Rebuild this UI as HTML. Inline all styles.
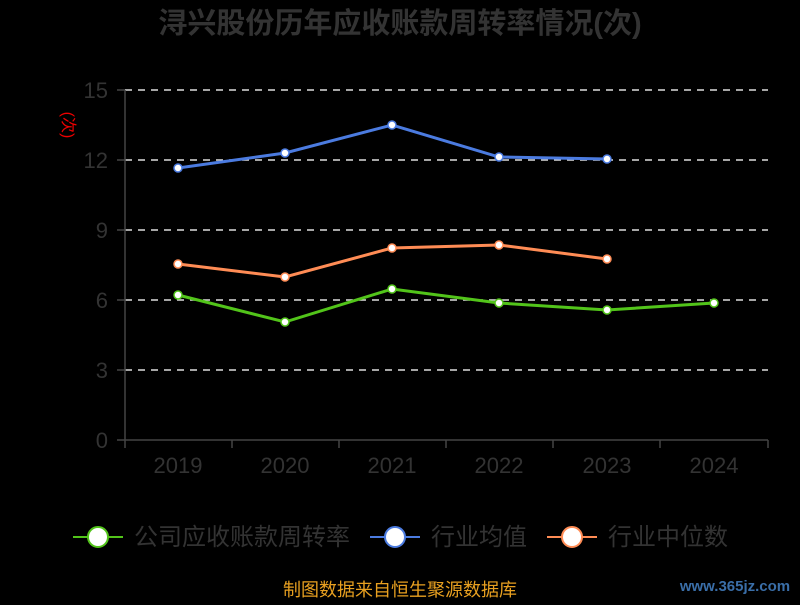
<!DOCTYPE html>
<html><head><meta charset="utf-8"><style>
body{margin:0;background:#000;width:800px;height:600px;overflow:hidden}
svg text{font-family:"Liberation Sans","Noto Sans CJK SC",sans-serif}
</style></head><body>
<svg width="800" height="600" xmlns="http://www.w3.org/2000/svg">
<rect width="800" height="600" fill="#000"/>
<text x="400" y="33" text-anchor="middle" font-size="29" font-weight="bold" fill="#333">浔兴股份历年应收账款周转率情况(次)</text>
<text transform="translate(63,125) rotate(90)" text-anchor="middle" font-size="16" fill="#e00">(次)</text>
<g stroke="#ddd" stroke-width="1.5" stroke-dasharray="7,6">
<line x1="125" y1="90" x2="768" y2="90"/><line x1="125" y1="160" x2="768" y2="160"/>
<line x1="125" y1="230" x2="768" y2="230"/><line x1="125" y1="300" x2="768" y2="300"/>
<line x1="125" y1="370" x2="768" y2="370"/></g>
<g stroke="#444" stroke-width="1.5">
<line x1="125" y1="90" x2="125" y2="440"/><line x1="125" y1="440" x2="768" y2="440"/>
<line x1="117" y1="90" x2="125" y2="90"/><line x1="117" y1="160" x2="125" y2="160"/><line x1="117" y1="230" x2="125" y2="230"/><line x1="117" y1="300" x2="125" y2="300"/><line x1="117" y1="370" x2="125" y2="370"/><line x1="117" y1="440" x2="125" y2="440"/>
<line x1="125" y1="440" x2="125" y2="448"/><line x1="232" y1="440" x2="232" y2="448"/><line x1="339" y1="440" x2="339" y2="448"/><line x1="446" y1="440" x2="446" y2="448"/><line x1="553" y1="440" x2="553" y2="448"/><line x1="660" y1="440" x2="660" y2="448"/><line x1="768" y1="440" x2="768" y2="448"/>
</g>
<g font-size="22" fill="#333" text-anchor="end">
<text x="108" y="98">15</text><text x="108" y="168">12</text><text x="108" y="238">9</text><text x="108" y="308">6</text><text x="108" y="378">3</text><text x="108" y="448">0</text></g>
<g font-size="22" fill="#333" text-anchor="middle">
<text x="178" y="473">2019</text><text x="285" y="473">2020</text><text x="392" y="473">2021</text><text x="499" y="473">2022</text><text x="607" y="473">2023</text><text x="714" y="473">2024</text></g>
<g fill="none" stroke-width="3">
<polyline stroke="#4b7be0" points="178,168 285,153 392,125 499,157 607,159"/>
<polyline stroke="#ff8c55" points="178,264 285,277 392,248 499,245 607,259"/>
<polyline stroke="#52c41a" points="178,295 285,322 392,289 499,303 607,310 714,303"/>
</g>
<g fill="#fff" stroke-width="1.5">
<g stroke="#4b7be0"><circle cx="178" cy="168" r="4"/><circle cx="285" cy="153" r="4"/><circle cx="392" cy="125" r="4"/><circle cx="499" cy="157" r="4"/><circle cx="607" cy="159" r="4"/></g>
<g stroke="#ff8c55"><circle cx="178" cy="264" r="4"/><circle cx="285" cy="277" r="4"/><circle cx="392" cy="248" r="4"/><circle cx="499" cy="245" r="4"/><circle cx="607" cy="259" r="4"/></g>
<g stroke="#52c41a"><circle cx="178" cy="295" r="4"/><circle cx="285" cy="322" r="4"/><circle cx="392" cy="289" r="4"/><circle cx="499" cy="303" r="4"/><circle cx="607" cy="310" r="4"/><circle cx="714" cy="303" r="4"/></g>
</g>
<g font-size="24" fill="#333">
<line x1="73" y1="537" x2="123" y2="537" stroke="#52c41a" stroke-width="2"/><circle cx="98" cy="537" r="10" fill="#fff" stroke="#52c41a" stroke-width="2"/><text x="134" y="545">公司应收账款周转率</text>
<line x1="370" y1="537" x2="420" y2="537" stroke="#4b7be0" stroke-width="2"/><circle cx="395" cy="537" r="10" fill="#fff" stroke="#4b7be0" stroke-width="2"/><text x="431" y="545">行业均值</text>
<line x1="547" y1="537" x2="597" y2="537" stroke="#ff8c55" stroke-width="2"/><circle cx="572" cy="537" r="10" fill="#fff" stroke="#ff8c55" stroke-width="2"/><text x="608" y="545">行业中位数</text>
</g>
<text x="400" y="596" text-anchor="middle" font-size="18" fill="#e8a020">制图数据来自恒生聚源数据库</text>
<text x="735" y="591" text-anchor="middle" font-size="15" font-weight="bold" fill="#3a6ea8">www.365jz.com</text>
</svg>
</body></html>
